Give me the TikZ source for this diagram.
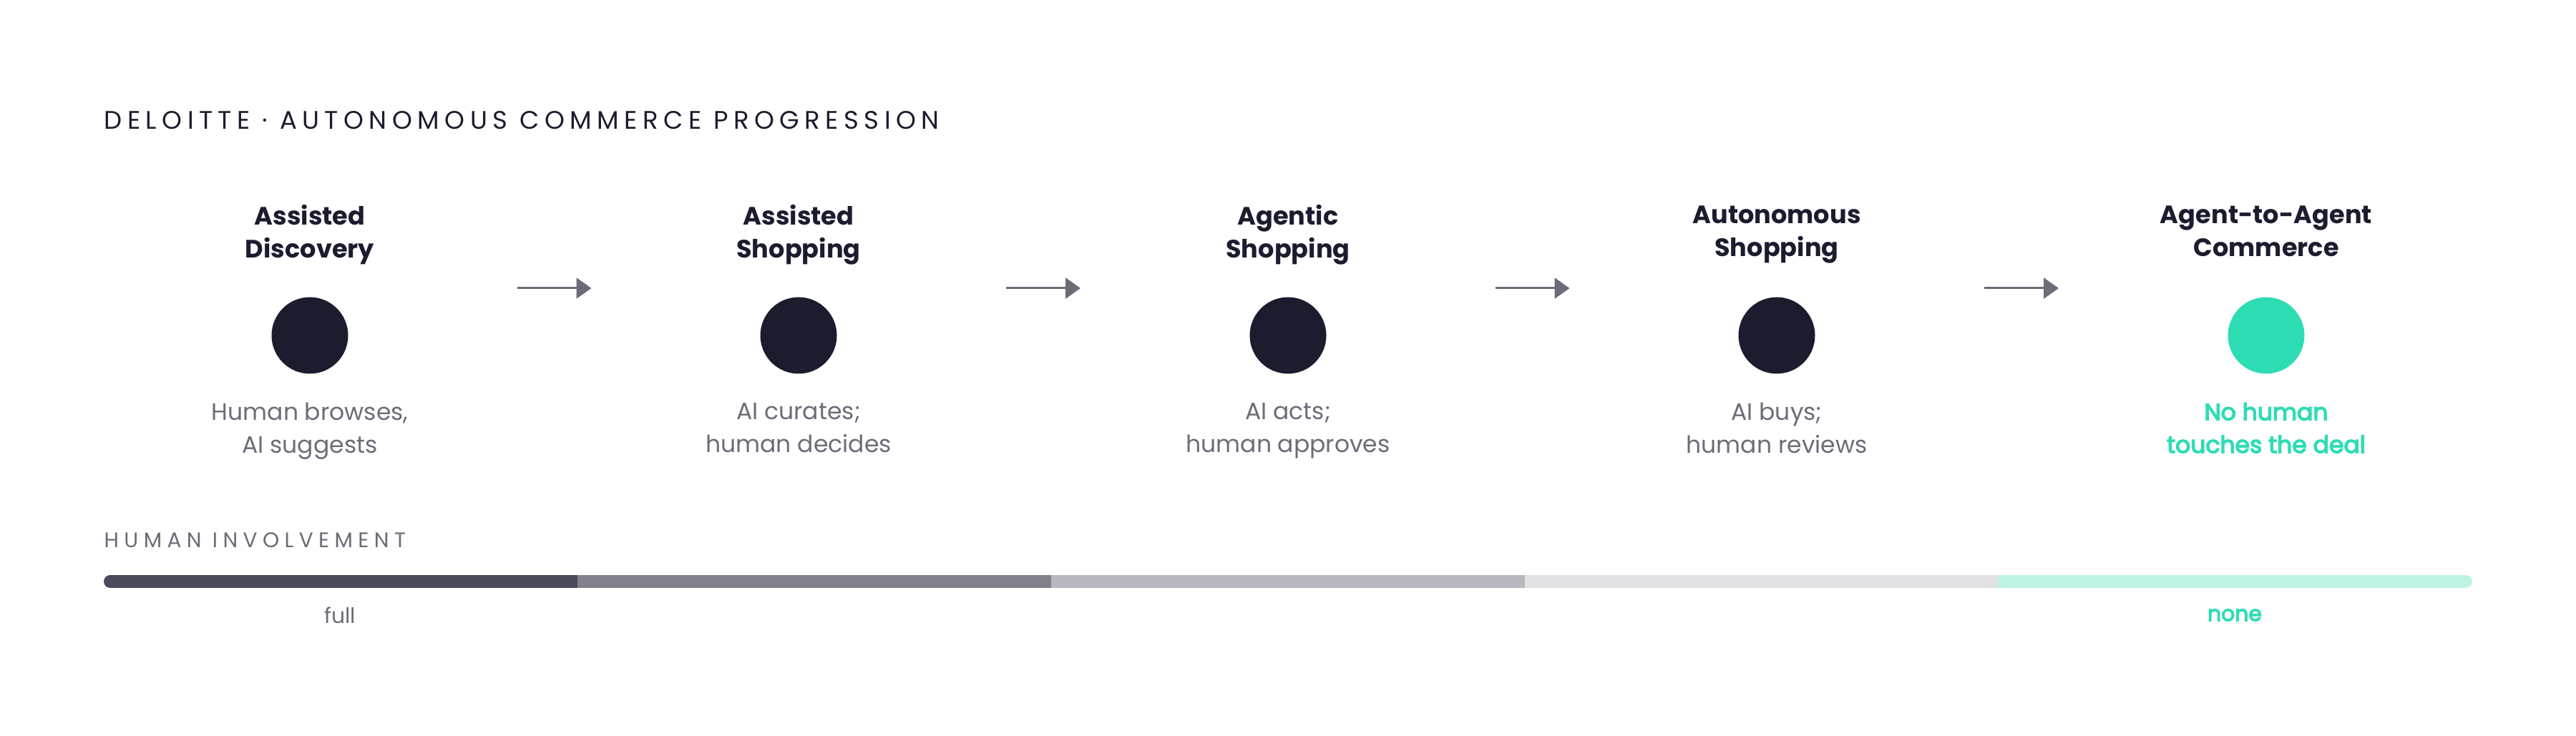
\documentclass[tikz,border=0pt]{standalone}
\usepackage{fontspec}
\setmainfont{Poppins}
\newfontfamily\trackfont[LetterSpace=21]{Poppins}
\newfontfamily\trackwide[LetterSpace=25]{Poppins}
\newfontfamily\semifont[FakeBold=4]{Poppins}
\usetikzlibrary{positioning,arrows.meta,calc}
\definecolor{ink}{HTML}{1B1C2E}
\definecolor{muted}{HTML}{6C6B78}
\definecolor{mint}{HTML}{2EDCB4}
\definecolor{bara}{HTML}{4A4A5A}
\definecolor{barb}{HTML}{82818B}
\definecolor{barc}{HTML}{B9B8BE}
\definecolor{bard}{HTML}{E2E2E4}
\definecolor{bare}{HTML}{BFF3E6}
\begin{document}
\begin{tikzpicture}[stage/.style={circle,fill=ink,minimum size=1.07cm,inner sep=0pt},
  heading/.style={font=\bfseries\fontsize{10}{13}\selectfont,text=ink,align=center,
    execute at begin node=\strut,execute at end node=\strut},
  note/.style={font=\fontsize{9.4}{13}\selectfont,text=muted,align=center,
    execute at begin node=\strut,execute at end node=\strut},
  flow/.style={-{Triangle[length=2.1mm,width=2.9mm]},line width=0.85pt,draw=muted}]
\useasboundingbox (0,0) rectangle (36,10.29);
\node [anchor=base west,inner sep=0pt,font=\trackfont\fontsize{10.1}{12}\selectfont,text=ink] (title) at (1.45,8.48) {DELOITTE · AUTONOMOUS COMMERCE PROGRESSION};

\node [stage] (s1) at (4.33,5.60) {};
\node [stage] (s2) at (11.16,5.60) {};
\node [stage] (s3) at (18.00,5.60) {};
\node [stage] (s4) at (24.83,5.60) {};
\node [stage,fill=mint] (s5) at (31.67,5.60) {};

\node [heading] (h1) at ([yshift=1.39cm]s1) {Assisted\\Discovery};
\node [heading] (h2) at ([yshift=1.39cm]s2) {Assisted\\Shopping};
\node [heading] (h3) at ([yshift=1.39cm]s3) {Agentic\\Shopping};
\node [heading] (h4) at ([yshift=1.39cm]s4) {Autonomous\\Shopping};
\node [heading] (h5) at ([yshift=1.39cm]s5) {Agent-to-Agent\\Commerce};

\node [note] (d1) at ([yshift=-1.36cm]s1) {Human browses,\\AI suggests};
\node [note] (d2) at ([yshift=-1.36cm]s2) {AI curates;\\human decides};
\node [note] (d3) at ([yshift=-1.36cm]s3) {AI acts;\\human approves};
\node [note] (d4) at ([yshift=-1.36cm]s4) {AI buys;\\human reviews};
\node [note,text=mint,font=\semifont\fontsize{9.4}{13}\selectfont] (d5) at ([yshift=-1.36cm]s5) {No human\\touches the deal};

\foreach \a/\b in {s1/s2,s2/s3,s3/s4,s4/s5}{
  \coordinate (\a-out) at ($(\a)!0.5!(\b)+(-0.52,0.66)$);
  \coordinate (\b-in) at ($(\a)!0.5!(\b)+(0.52,0.66)$);
  \draw [flow] (\a-out) -- (\b-in);
}

\node [anchor=west,inner sep=0pt,font=\trackwide\fontsize{8.4}{10}\selectfont,text=muted] (level) at (1.45,2.74) {HUMAN INVOLVEMENT};
\begin{scope}
\clip [rounded corners=0.09cm] (1.45,2.07) rectangle (34.55,2.25);
\foreach \c [count=\i from 0] in {bara,barb,barc,bard,bare}
  \fill [\c] ({1.45+6.62*\i},2.07) rectangle ({1.45+6.62*(\i+1)},2.25);
\end{scope}
\node [font=\fontsize{8.5}{10}\selectfont,text=muted] (full) at (4.75,1.69) {full};
\node [font=\semifont\fontsize{8.5}{10}\selectfont,text=mint] (none) at (31.23,1.69) {none};
\end{tikzpicture}
\end{document}
